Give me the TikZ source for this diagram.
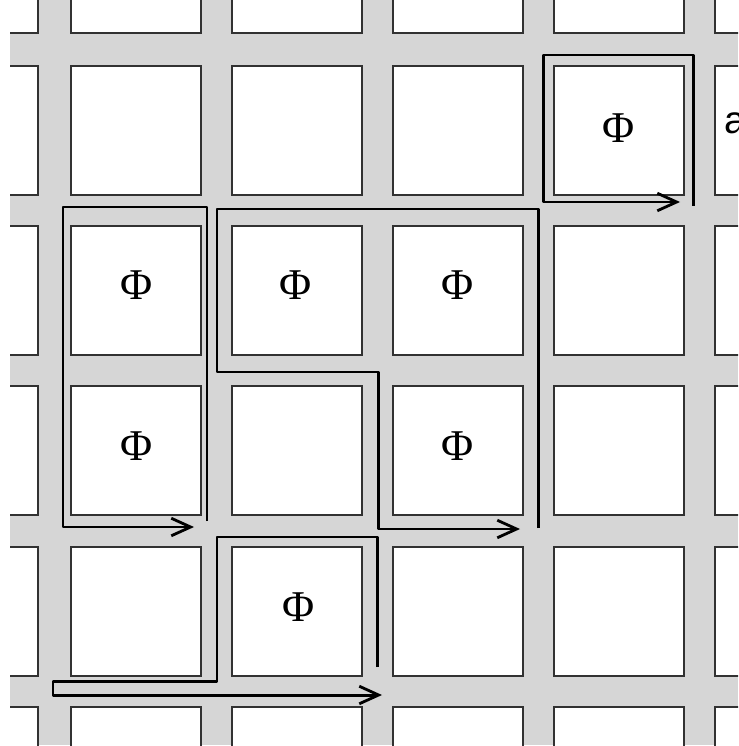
\documentclass[tikz,border=0pt]{standalone}
\usepackage{fontspec}
\setmainfont{Liberation Serif}
\newfontfamily\labelsans{Liberation Sans}
\usepackage{xcolor}
\usepackage{tikz}
\usetikzlibrary{arrows.meta}
\definecolor{chgray}{RGB}{214,214,214}
\definecolor{celledge}{RGB}{50,50,50}
\tikzset{
  cell/.style={draw=celledge, line width=0.95pt, fill=white},
  route/.style={draw=black, line width=1.7pt, line join=round, -{Straight Barb[length=11pt,width=10pt,line width=1.6pt]}},
  philabel/.style={inner sep=0pt, font=\fontsize{25}{28}\selectfont},
}

\begin{document}
\begin{tikzpicture}[x=0.02cm,y=-0.02cm]
  \useasboundingbox (0,0) rectangle (738,746);
  \begin{scope}
    \clip (10,0) rectangle (738,745);
    \fill[chgray] (10,0) rectangle (738,745);
    \foreach \cx in {-92,71,232,393,554,715} {
      \foreach \cy in {-96,66,226,386,547,707} {
        \draw[cell] (\cx,\cy) rectangle ++(130,129);
      }
    }
    \node[anchor=west, inner sep=0pt, font=\labelsans\fontsize{22}{24}\selectfont] (sidea) at (724,123) {a};
  \end{scope}
  \node[philabel] (phiA) at (619,128) {Φ};
  \node[philabel] (phiB) at (137,285) {Φ};
  \node[philabel] (phiC) at (296,285) {Φ};
  \node[philabel] (phiD) at (458,285) {Φ};
  \node[philabel] (phiE) at (137,446) {Φ};
  \node[philabel] (phiF) at (458,446) {Φ};
  \node[philabel] (phiG) at (299,607) {Φ};
  \draw[route] (693,206) -- (693,55) -- (543,55) -- (543,202) -- (680,202);
  \draw[route] (207,521) -- (207,207) -- (63,207) -- (63,527) -- (194,527);
  \draw[route] (538,528) -- (538,209) -- (217,209) -- (217,372) -- (378,372) -- (378,529) -- (520,529);
  \draw[route] (377,667) -- (377,537) -- (217,537) -- (217,681) -- (53,681) -- (53,695) -- (382,695);
\end{tikzpicture}
\end{document}
